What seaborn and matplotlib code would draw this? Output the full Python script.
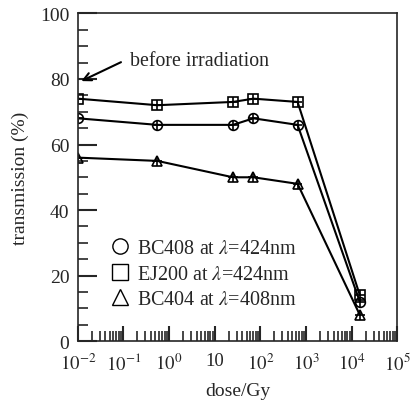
import numpy as np
import pandas as pd
import matplotlib
matplotlib.use("Agg")
import matplotlib.pyplot as plt
import matplotlib.ticker as mticker
from matplotlib.lines import Line2D
import seaborn as sns

# data
dose = [0.01, 0.55, 25, 70, 650, 15000]
bc408 = [68, 66, 66, 68, 66, 12]
ej200 = [74, 72, 73, 74, 73, 14]
bc404 = [56, 55, 50, 50, 48, 8]
names = ["BC408 at $\\lambda$=424nm", "EJ200 at $\\lambda$=424nm", "BC404 at $\\lambda$=408nm"]
xticklabels = ["$10^{-2}$", "$10^{-1}$", "$10^{0}$", "10", "$10^{2}$", "$10^{3}$", "$10^{4}$", "$10^{5}$"]

df = pd.DataFrame({
    "dose": dose * 3,
    "transmission": bc408 + ej200 + bc404,
    "sample": [names[0]] * 6 + [names[1]] * 6 + [names[2]] * 6,
})

sns.set_style("ticks")
plt.rcParams["font.family"] = ["Liberation Serif", "DejaVu Serif"]
plt.rcParams["mathtext.fontset"] = "stix"

fig = plt.figure(figsize=(4.14, 4.02), dpi=100)
ax = fig.add_axes([0.188, 0.149, 0.772, 0.815])

markers = {names[0]: "o", names[1]: "s", names[2]: "^"}
sns.lineplot(data=df, x="dose", y="transmission", hue="sample", style="sample",
             markers=markers, dashes=False, palette=["black"] * 3, lw=1.5,
             markersize=7, mfc="none", mec="black", mew=1.2, legend=False, ax=ax)

# small error crosses on every point
x = np.array(dose)
for ys in (bc408, ej200, bc404):
    ax.errorbar(x, ys, yerr=1.5, xerr=[x * 0.22, x * 0.28], fmt="none",
                ecolor="black", elinewidth=1.2, capsize=0)

ax.set_xscale("log")
ax.set_xlim(0.01, 1e5)
ax.set_ylim(0, 100)
ax.set_xticks([1e-2, 1e-1, 1, 10, 1e2, 1e3, 1e4, 1e5])
ax.set_xticklabels(xticklabels)
ax.xaxis.set_minor_locator(mticker.LogLocator(base=10, subs=np.arange(2, 10), numticks=20))
ax.xaxis.set_minor_formatter(mticker.NullFormatter())
ax.set_yticks([0, 20, 40, 60, 80, 100])
ax.yaxis.set_minor_locator(mticker.MultipleLocator(5))
ax.tick_params(axis="x", which="major", direction="in", length=11, width=1.5, labelsize=13.5, pad=8)
ax.tick_params(axis="y", which="major", direction="in", length=14, width=1.5, labelsize=14, pad=6)
ax.tick_params(which="minor", direction="in", length=7, width=1.2)
for s in ax.spines.values():
    s.set_linewidth(1.2)

ax.set_xlabel("dose/Gy", fontsize=14, labelpad=6)
ax.set_ylabel("transmission (%)", fontsize=14, labelpad=8)

ax.text(0.14, 85.7, "before irradiation", fontsize=14.3, va="center", ha="left")
ax.annotate("", xy=(0.0105, 79), xytext=(0.1, 85.5),
            arrowprops=dict(arrowstyle="->", color="black", lw=1.5, mutation_scale=14))

handles = [Line2D([], [], ls="none", marker=m, ms=11, mfc="none", mec="black", mew=1.0)
           for m in ("o", "s", "^")]
ax.legend(handles, names, loc="upper left", bbox_to_anchor=(0.075, 0.335), frameon=False,
          fontsize=14.5, handlelength=1.0, handletextpad=0.35, labelspacing=0.3, borderaxespad=0)

fig.savefig("out.png", dpi=100)
